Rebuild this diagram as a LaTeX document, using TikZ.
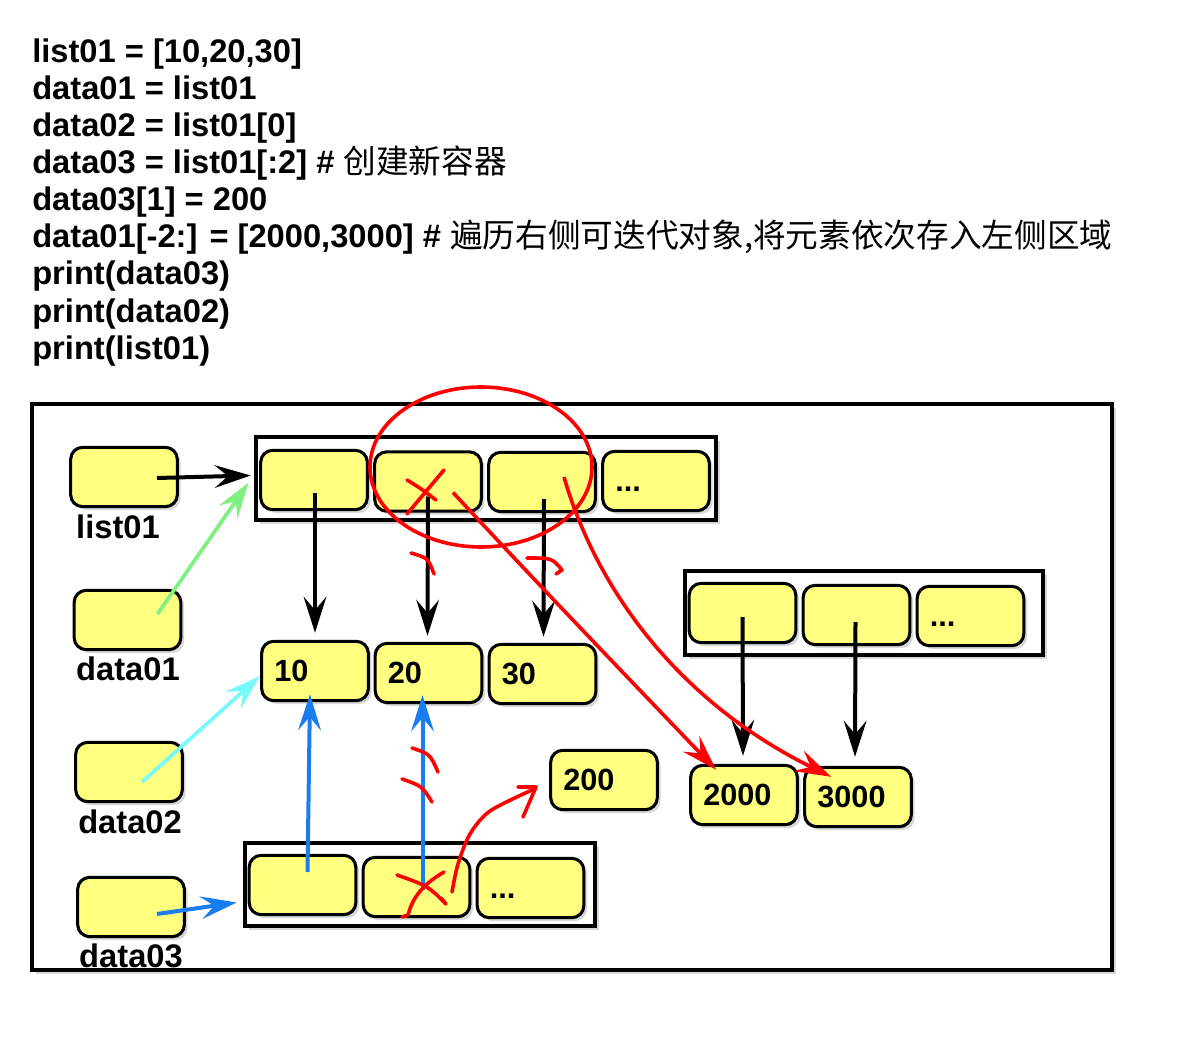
\documentclass[tikz,border=0pt]{standalone}
\usepackage{fontspec}
\setmainfont{Liberation Sans}
\newfontfamily\cjk{Noto Sans CJK SC}
\usetikzlibrary{arrows.meta,calc,shadows}
\definecolor{cellyellow}{RGB}{255,255,128}
\definecolor{myred}{RGB}{255,0,0}
\definecolor{myblue}{RGB}{25,125,240}
\definecolor{mygreen}{RGB}{128,240,128}
\definecolor{mycyan}{RGB}{120,250,250}
\begin{document}
\begin{tikzpicture}[x=0.75pt,y=-0.75pt,
  code/.style={font=\bfseries\fontsize{24.5}{24.5}\selectfont, inner sep=0pt, anchor=base west},
  lbl/.style={font=\bfseries\fontsize{24.5}{24.5}\selectfont, inner sep=0pt, anchor=base},
  cell/.style={draw=black, line width=2.3pt, fill=cellyellow, rounded corners=9pt,
    minimum width=80pt, minimum height=44.5pt, inner sep=0pt, text width=61pt, align=left,
    font=\bfseries\fontsize{23}{23}\selectfont,
    drop shadow={shadow xshift=2.5pt,shadow yshift=-2.5pt,opacity=0.3}},
  container/.style={draw=black, line width=3.5pt, fill=white, inner sep=0pt,
    drop shadow={shadow xshift=3pt,shadow yshift=-3pt,opacity=0.3}},
  tipstyle/.style={-{Stealth[length=27pt,width=17pt,inset=10pt]}},
  blk/.style={tipstyle, line width=3pt, black},
  blu/.style={tipstyle, line width=3pt, myblue},
  grn/.style={tipstyle, line width=2.8pt, mygreen},
  cyn/.style={tipstyle, line width=2.8pt, mycyan},
  redarr/.style={tipstyle, line width=2.7pt, myred},
  redmark/.style={line width=2.7pt, myred, line cap=round, line join=round}
]
\useasboundingbox[fill=white] (0,0) rectangle (1194,1037);

% code text
\node[code] (t1) at (32,63) {list01 = [10,20,30]};
\node[code] (t2) at (32,100) {data01 = list01};
\node[code] (t3) at (32,137) {data02 = list01[0]};
\node[code] (t4) at (32,174) {data03 = list01[:2] \# {\mdseries\cjk 创建新容器}};
\node[code] (t5) at (32,211) {data03[1] = 200};
\node[code] (t6) at (32,248) {data01[-2:] = [2000,3000] \# {\mdseries\cjk 遍历右侧可迭代对象,将元素依次存入左侧区域}};
\node[code] (t7) at (32,285) {print(data03)};
\node[code] (t8) at (32,322) {print(data02)};
\node[code] (t9) at (32,359) {print(list01)};

% outer frame
\draw[line width=3.5pt, fill=white, drop shadow={shadow xshift=3pt,shadow yshift=-3pt,opacity=0.3}]
  (32,404) rectangle (1112,970);

% containers
\node[container, minimum width=345pt, minimum height=62.25pt] (lc) at (486,478.5) {};
\node[container, minimum width=268.5pt, minimum height=63pt] (rc) at (864,613) {};
\node[container, minimum width=262.5pt, minimum height=62.25pt] (dc) at (420,884.5) {};

% variable boxes
\node[cell] (vlist) at (124,477) {};
\node[cell] (vd1) at (127.5,620) {};
\node[cell] (vd2) at (129,772) {};
\node[cell] (vd3) at (131,907) {};
\node[lbl] (llist) at (118,538) {list01};
\node[lbl] (ld1) at (128,680) {data01};
\node[lbl] (ld2) at (130,833) {data02};
\node[lbl] (ld3) at (131,967) {data03};

% list01 cells
\node[cell] (c1) at (314,480) {};
\node[cell] (c2) at (428,481.5) {};
\node[cell] (c3) at (542,482) {};
\node[cell] (c4) at (656,481) {\vphantom{0}...};

% right container cells
\node[cell] (r1) at (742.5,613) {};
\node[cell] (r2) at (856.5,615) {};
\node[cell] (r3) at (970.5,616) {\vphantom{0}...};

% data03 cells
\node[cell] (d1) at (302.5,885) {};
\node[cell] (d2) at (416.5,887) {};
\node[cell] (d3) at (530.5,888) {\vphantom{0}...};

% values
\node[cell] (v10) at (315,671) {10};
\node[cell] (v20) at (428.5,673) {20};
\node[cell] (v30) at (542.5,674) {30};
\node[cell] (v200) at (604,780) {200};
\node[cell] (v2000) at (744,795) {2000};
\node[cell] (v3000) at (858,797) {3000};

% arrows
\draw[blk] ($(vlist.center)+(33,1)$) -- ($(lc.west)+(-3,-3)$);
\draw[grn] ($(vd1.center)+(30,-6)$) -- ($(lc.west)+(-5,4)$);
\draw[cyn] ($(vd2.center)+(13,10)$) -- ($(v10.west)+(0,5)$);
\draw[blu] ($(vd3.center)+(26,7)$) -- ($(dc.west)+(-6,18)$);

\draw[blk] ($(c1.center)+(1,13)$) -- ($(v10.north)+(0,-7)$);
\draw[blk] ($(c2.center)+(0,15)$) -- ($(v20.north)+(-1,-6)$);
\draw[blk] ($(c3.center)+(2,17)$) -- ($(v30.north)+(1,-6)$);
\draw[blk] ($(r1.center)+(0,4)$) -- ($(v2000.north)+(-1,-8)$);
\draw[blk] ($(r2.center)+(-1,7)$) -- ($(v3000.north)+(-3,-9)$);

\draw[blu] ($(d1.center)+(5,-13)$) -- ($(v10.south)+(-5,-8)$);
\draw[blu] ($(d2.center)+(6,3)$) -- ($(v20.south)+(-6,-9)$);

% red reassignments
\draw[redarr] ($(c2.center)+(25,11)$) .. controls (536,582) and (630,680) .. ($(v2000.north west)+(27,6)$);
\draw[redarr] ($(c3.center)+(22,-5)$) .. controls (595,585) and (675,700) .. ($(v3000.north west)+(28,11)$);

% red ellipse
\draw[myred, line width=2.7pt] (481,467) ellipse [x radius=111, y radius=80];

% red X on list01[1]
\draw[redmark] (407,480) .. controls (420,488) .. (436,500) -- (432,497);
\draw[redmark] (444,470) -- (407,514);
% red ticks on black arrows
\draw[redmark] (411,553) .. controls (428,558) .. (434,574);
\draw[redmark] (527,558) .. controls (552,558) .. (562,570) -- (556,574);

% red ticks on blue arrow
\draw[redmark] (412,748) .. controls (430,754) .. (438,772);
\draw[redmark] (402,779) .. controls (422,786) .. (432,802);
% red X on data03[1]
\draw[redmark] (397,875) .. controls (428,886) .. (446,904) -- (441,898);
\draw[redmark] (444,872) .. controls (420,886) and (412,900) .. (408,915) -- (402,917);
% red arrow to 200
\draw[redmark] plot[smooth] coordinates {(452,892) (458,864) (470,834) (490,811) (532,790)};
\draw[redmark] (518,787) -- (536,787) -- (523,817);
\end{tikzpicture}
\end{document}
